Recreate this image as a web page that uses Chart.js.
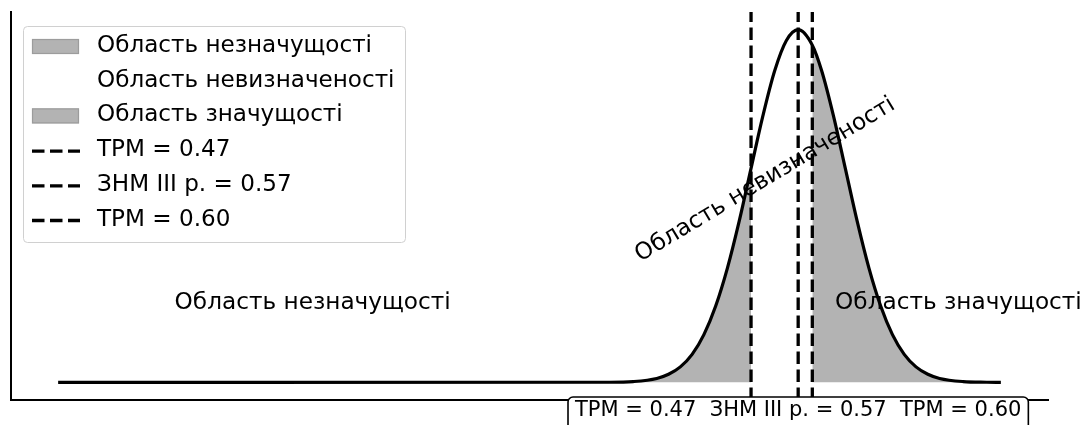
<!DOCTYPE html>
<html><head><meta charset="utf-8">
<script src="https://cdn.jsdelivr.net/npm/chart.js@4/dist/chart.umd.min.js"></script>
<style>html,body{margin:0;padding:0;background:#fff;}canvas{display:block}</style>
</head><body><canvas id="c" width="1088" height="425"></canvas>
<script>
// ---- data ----
const xValues = [-1.0, 0.17, 0.22, 0.27, 0.295, 0.32, 0.345, 0.37, 0.395, 0.42, 0.445, 0.47, 0.495, 0.52, 0.545, 0.57, 0.60, 0.62, 0.645, 0.67, 0.695, 0.72, 0.745, 0.77, 0.795, 0.82, 0.845, 0.87, 0.92, 0.97, 1.0];
const density = [0, 0.0013, 0.0087, 0.044, 0.091, 0.175, 0.317, 0.540, 0.863, 1.295, 1.826, 2.420, 3.011, 3.521, 3.866, 3.989, 3.813, 3.521, 3.011, 2.420, 1.826, 1.295, 0.863, 0.540, 0.317, 0.175, 0.091, 0.044, 0.0087, 0.0013, 0];
const regionLabels = ['Область незначущості', 'Область невизначеності', 'Область значущості'];
const regionStarts = [-1.0, 0.47, 0.60];
const regionEnds = [0.47, 0.60, 1.0];
const thresholdLabels = ['ТРМ = 0.47', 'ЗНМ ІІІ р. = 0.57', 'ТРМ = 0.60'];
const thresholdValues = [0.47, 0.57, 0.60];
const xLimits = [-1.1, 1.1];
const yLimits = [-0.1995, 4.188];

// ---- styles ----
const FONT = '"DejaVu Sans", "Liberation Sans", sans-serif';
const regionColors = ['#b3b3b3', 'rgba(255,255,255,1)', '#b3b3b3'];
const curvePoints = xValues.map((x, i) => ({x, y: density[i]}));

const datasets = [];
thresholdValues.forEach((v, i) => {
  datasets.push({
    label: thresholdLabels[i], kind: 'line',
    data: [{x: v, y: yLimits[0]}, {x: v, y: yLimits[1]}],
    borderColor: '#000', borderWidth: 3.3, borderDash: [12.5, 5.5],
    pointRadius: 0, fill: false, order: 0, tension: 0
  });
});
datasets.push({
  label: 'curve', kind: 'curve', data: curvePoints,
  borderColor: '#000', borderWidth: 3.2, pointRadius: 0, fill: false,
  cubicInterpolationMode: 'monotone', order: 1
});
regionLabels.forEach((lab, i) => {
  datasets.push({
    label: lab, kind: 'patch',
    data: curvePoints.filter(p => p.x >= regionStarts[i] - 1e-9 && p.x <= regionEnds[i] + 1e-9),
    borderWidth: 0, borderColor: 'rgba(0,0,0,0)', backgroundColor: regionColors[i],
    pointRadius: 0, fill: 'origin', cubicInterpolationMode: 'monotone', order: 2 + i
  });
});

const textPlugin = {
  id: 'texts',
  afterDraw(chart) {
    const ctx = chart.ctx, xs = chart.scales.x, ys = chart.scales.y;
    ctx.save();
    const annX = [-0.46, 0.50, 0.91], annY = [0.90, 2.29, 0.90], annRot = [0, -31, 0];
    ctx.fillStyle = '#000';
    ctx.font = '23.2px ' + FONT;
    ctx.textAlign = 'center'; ctx.textBaseline = 'middle';
    regionLabels.forEach((lab, i) => {
      ctx.save();
      ctx.translate(xs.getPixelForValue(annX[i]), ys.getPixelForValue(annY[i]));
      ctx.rotate(annRot[i] * Math.PI / 180);
      ctx.fillText(lab, 0, 0);
      ctx.restore();
    });
    const summary = thresholdLabels.join('  ');
    ctx.font = '21px ' + FONT;
    const w = ctx.measureText(summary).width;
    const cx = xs.getPixelForValue(thresholdValues[1]);
    const cy = ys.getPixelForValue(-0.322);
    const bx = cx - w / 2 - 7, by = 397, bw = w + 14, bh = 40;
    ctx.beginPath();
    ctx.roundRect(bx, by, bw, bh, 5);
    ctx.fillStyle = '#fff'; ctx.fill();
    ctx.lineWidth = 1.6; ctx.strokeStyle = '#000'; ctx.stroke();
    ctx.fillStyle = '#000';
    ctx.fillText(summary, cx, cy);

    const items = chart.data.datasets.filter(d => d.kind === 'patch').concat(chart.data.datasets.filter(d => d.kind === 'line'));
    const lx = 23, ly = 26, lw = 382, lh = 216;
    ctx.beginPath();
    ctx.roundRect(lx + 0.5, ly + 0.5, lw, lh, 4);
    ctx.fillStyle = 'rgba(255,255,255,0.8)'; ctx.fill();
    ctx.lineWidth = 1; ctx.strokeStyle = '#d0d0d0'; ctx.stroke();
    ctx.font = '23.1px ' + FONT;
    ctx.textAlign = 'left'; ctx.textBaseline = 'middle';
    items.forEach((d, i) => {
      const yc = 46 + i * 34.7;
      if (d.kind === 'patch') {
        ctx.fillStyle = d.backgroundColor;
        ctx.fillRect(32, yc - 7, 47, 15);
        if (d.backgroundColor !== 'rgba(255,255,255,1)') {
          ctx.lineWidth = 1.2; ctx.strokeStyle = '#9c9c9c';
          ctx.strokeRect(32.5, yc - 6.5, 46, 14);
        }
      } else {
        ctx.setLineDash(d.borderDash);
        ctx.lineWidth = d.borderWidth; ctx.strokeStyle = d.borderColor;
        ctx.beginPath(); ctx.moveTo(32, yc + 1); ctx.lineTo(80, yc + 1); ctx.stroke();
        ctx.setLineDash([]);
      }
      ctx.fillStyle = '#000';
      ctx.fillText(d.label, 97, yc);
    });
    ctx.restore();
  }
};

new Chart(document.getElementById('c'), {
  type: 'line',
  data: {datasets},
  options: {
    responsive: false, animation: false, devicePixelRatio: 1,
    layout: {padding: {left: 11, top: 12, right: 40, bottom: 25}},
    plugins: {legend: {display: false}, tooltip: {enabled: false}},
    scales: {
      x: {type: 'linear', min: xLimits[0], max: xLimits[1], display: true,
          grid: {display: false, drawTicks: false}, ticks: {display: false},
          border: {display: true, color: '#000', width: 2}},
      y: {type: 'linear', min: yLimits[0], max: yLimits[1], display: true,
          grid: {display: false, drawTicks: false}, ticks: {display: false},
          border: {display: true, color: '#000', width: 2}}
    }
  },
  plugins: [textPlugin]
});
</script></body></html>
